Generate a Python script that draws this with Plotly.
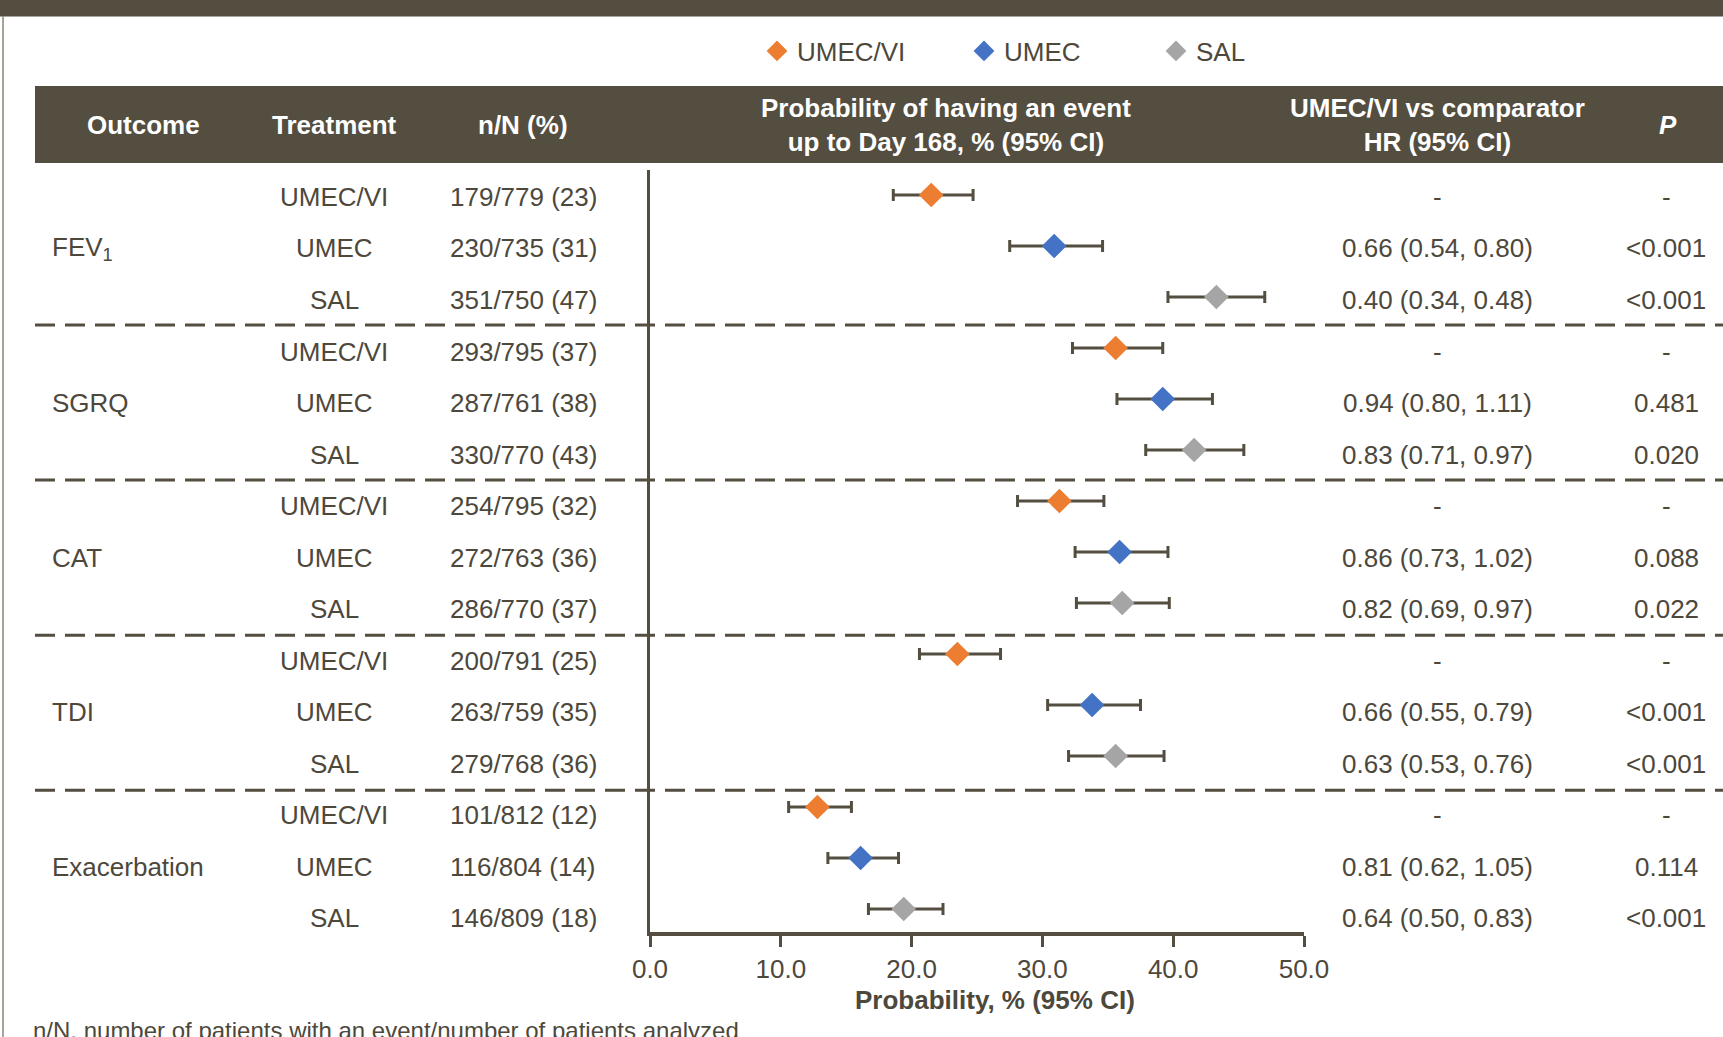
import plotly.graph_objects as go

W, H = 1723, 1037

outcomes = ["FEV<sub>1</sub>", "SGRQ", "CAT", "TDI", "Exacerbation"]
treatments = ["UMEC/VI", "UMEC", "SAL"]
colors = {"UMEC/VI": "#ED7D31", "UMEC": "#4472C4", "SAL": "#A5A5A5"}

nN = [
    ["179/779 (23)", "230/735 (31)", "351/750 (47)"],
    ["293/795 (37)", "287/761 (38)", "330/770 (43)"],
    ["254/795 (32)", "272/763 (36)", "286/770 (37)"],
    ["200/791 (25)", "263/759 (35)", "279/768 (36)"],
    ["101/812 (12)", "116/804 (14)", "146/809 (18)"],
]

# Probability estimates and 95% CI (per treatment, across outcomes)
prob_est = {
    "UMEC/VI": [21.5, 35.6, 31.3, 23.5, 12.8],
    "UMEC":    [30.9, 39.2, 35.9, 33.8, 16.1],
    "SAL":     [43.3, 41.6, 36.1, 35.6, 19.4],
}
prob_lo = {
    "UMEC/VI": [18.6, 32.3, 28.1, 20.6, 10.6],
    "UMEC":    [27.5, 35.7, 32.5, 30.4, 13.6],
    "SAL":     [39.6, 37.9, 32.6, 32.0, 16.7],
}
prob_hi = {
    "UMEC/VI": [24.7, 39.2, 34.7, 26.8, 15.4],
    "UMEC":    [34.6, 43.0, 39.6, 37.5, 19.0],
    "SAL":     [47.0, 45.4, 39.7, 39.3, 22.4],
}

hr_text = [
    ["-", "0.66 (0.54, 0.80)", "0.40 (0.34, 0.48)"],
    ["-", "0.94 (0.80, 1.11)", "0.83 (0.71, 0.97)"],
    ["-", "0.86 (0.73, 1.02)", "0.82 (0.69, 0.97)"],
    ["-", "0.66 (0.55, 0.79)", "0.63 (0.53, 0.76)"],
    ["-", "0.81 (0.62, 1.05)", "0.64 (0.50, 0.83)"],
]
p_text = [
    ["-", "<0.001", "<0.001"],
    ["-", "0.481", "0.020"],
    ["-", "0.088", "0.022"],
    ["-", "<0.001", "<0.001"],
    ["-", "0.114", "<0.001"],
]

x_ticks = [0, 10, 20, 30, 40, 50]

DARK = "#544E40"
TXT = "#4D483C"
FONT = "Liberation Sans, Arial, sans-serif"


def px(x):
    return x / W


def py(y):
    return 1 - y / H


fig = go.Figure()

legends = ["legend", "legend2", "legend3"]
for ti, t in enumerate(treatments):
    ys = [3 * g + ti for g in range(len(outcomes))]
    est = prob_est[t]
    fig.add_trace(go.Scatter(
        x=est, y=ys, mode="markers", name=t, legend=legends[ti],
        marker=dict(symbol="diamond", size=19, color=colors[t], line=dict(width=0)),
        error_x=dict(
            type="data", symmetric=False,
            array=[h - e for h, e in zip(prob_hi[t], est)],
            arrayminus=[e - l for e, l in zip(est, prob_lo[t])],
            color=DARK, thickness=3, width=6,
        ),
        hoverinfo="x+name",
    ))

row_top_px, row_step_px = 195, 51
y_top = (170 - row_top_px) / row_step_px
y_bot = (932 - row_top_px) / row_step_px


def text_row(r):
    # table text rows sit on a slightly looser pitch than the plotted markers
    return (51.5 * r + 2) / row_step_px


annotations = []
shapes = []

# Top dark band
shapes.append(dict(type="rect", xref="paper", yref="paper", x0=0, x1=1,
                   y0=py(16.5), y1=1, fillcolor=DARK, line=dict(width=0), layer="below"))
# left frame line
shapes.append(dict(type="line", xref="paper", yref="paper", x0=px(3), x1=px(3),
                   y0=0, y1=py(16), line=dict(color="#8C8677", width=1.5)))
# Header band
shapes.append(dict(type="rect", xref="paper", yref="paper", x0=px(35), x1=1,
                   y0=py(163), y1=py(86), fillcolor=DARK, line=dict(width=0), layer="below"))

# Dashed separators
for g in range(len(outcomes) - 1):
    yv = 3 * (g + 1) - 0.45 + 0.04 * g
    shapes.append(dict(type="line", xref="paper", yref="y", x0=px(35), x1=1,
                       y0=yv, y1=yv, line=dict(color=DARK, width=3, dash="20px,10px")))

hdr_y = py(124.5)
headers = [
    (143, "<b>Outcome</b>"),
    (334, "<b>Treatment</b>"),
    (523, "<b>n/N (%)</b>"),
    (946, "<b>Probability of having an event</b><br><b>up to Day 168, % (95% CI)</b>"),
    (1437, "<b>UMEC/VI vs comparator</b><br><b>HR (95% CI)</b>"),
    (1668, "<b><i>P</i></b>"),
]
for x, txt in headers:
    annotations.append(dict(xref="paper", yref="paper", x=px(x), y=hdr_y, text=txt,
                            showarrow=False, xanchor="center", yanchor="middle",
                            font=dict(family=FONT, size=26, color="white")))

for g, o in enumerate(outcomes):
    annotations.append(dict(xref="paper", yref="y", x=px(50), y=text_row(3 * g + 1), text=o,
                            showarrow=False, xanchor="left", yanchor="middle",
                            font=dict(family=FONT, size=26, color=TXT)))
    for ti, t in enumerate(treatments):
        r = 3 * g + ti
        for x, txt in [(334, t), (523, nN[g][ti]), (1437, hr_text[g][ti]), (1666, p_text[g][ti])]:
            annotations.append(dict(xref="paper", yref="y", x=px(x), y=text_row(r), text=txt,
                                    showarrow=False, xanchor="center", yanchor="middle",
                                    font=dict(family=FONT, size=26, color=TXT)))

# x-axis title
annotations.append(dict(xref="paper", yref="paper", x=px(995), y=py(1000),
                        text="<b>Probability, % (95% CI)</b>", showarrow=False,
                        xanchor="center", yanchor="middle",
                        font=dict(family=FONT, size=26, color=TXT)))
# footnote
annotations.append(dict(xref="paper", yref="paper", x=px(31), y=py(1030),
                        text="n/N, number of patients with an event/number of patients analyzed",
                        showarrow=False, xanchor="left", yanchor="middle",
                        font=dict(family=FONT, size=24, color=TXT)))

leg_common = dict(orientation="h", yanchor="middle", xanchor="left", bgcolor="rgba(0,0,0,0)",
                  font=dict(family=FONT, size=26, color=TXT), borderwidth=0)

fig.update_layout(
    width=W, height=H,
    margin=dict(l=0, r=0, t=0, b=0, pad=0, autoexpand=False),
    paper_bgcolor="white", plot_bgcolor="white",
    font=dict(family=FONT, size=26, color=TXT),
    showlegend=True,
    legend=dict(x=px(757), y=py(51), **leg_common),
    legend2=dict(x=px(964), y=py(51), **leg_common),
    legend3=dict(x=px(1156), y=py(51), **leg_common),
    xaxis=dict(
        domain=[px(650), px(1304)], range=[0, 50], automargin=False,
        tickvals=x_ticks, ticktext=[f"{v:.1f}" for v in x_ticks],
        showline=True, linecolor=DARK, linewidth=4,
        ticks="outside", ticklen=11, tickwidth=3, tickcolor=DARK,
        showgrid=False, zeroline=False,
        tickfont=dict(family=FONT, size=26, color=TXT),
    ),
    yaxis=dict(
        domain=[py(932), py(170)], range=[y_bot, y_top], automargin=False,
        showline=True, linecolor=DARK, linewidth=3,
        showticklabels=False, ticks="", showgrid=False, zeroline=False,
    ),
    shapes=shapes,
    annotations=annotations,
)

post = (
    "document.documentElement.style.margin='0';"
    "document.documentElement.style.overflow='hidden';"
    "document.body.style.margin='0';"
    "document.body.style.padding='0';"
    "document.body.style.overflow='hidden';"
)
fig.write_html("out.html", post_script=post, config={"displayModeBar": False})
